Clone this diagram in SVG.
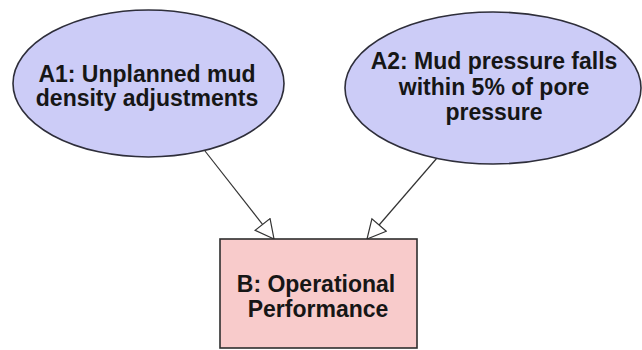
<svg xmlns="http://www.w3.org/2000/svg" width="642" height="350" viewBox="0 0 642 350">
  <style>
    .cause { fill: #ccccf7; stroke: #2e2e3a; stroke-width: 1.6; }
    .effect { fill: #f8cbcb; stroke: #2e2e2e; stroke-width: 1.6; }
    .label { font-family: "Liberation Sans", Arial, sans-serif; font-weight: bold; font-size: 23px; fill: #161616; text-anchor: middle; }
    .edge { stroke: #333333; stroke-width: 1.2; fill: none; marker-end: url(#openArrow); }
  </style>
  <defs>
    <marker id="openArrow" markerUnits="userSpaceOnUse" viewBox="0 0 21 21" markerWidth="21" markerHeight="21" refX="19.5" refY="10" orient="auto">
      <path d="M1,0.5 L19.5,10 L1,19.5 Z" fill="#ffffff" stroke="#333333" stroke-width="1.2" stroke-linejoin="miter"/>
    </marker>
  </defs>
  <rect width="642" height="350" fill="#ffffff"/>

  <g id="edges">
    <path class="edge" d="M205,151 L274,239"/>
    <path class="edge" d="M437,158 L367,239"/>
  </g>

  <g id="A1">
    <ellipse class="cause" cx="148.5" cy="83.5" rx="135.5" ry="73.5"/>
    <text class="label" x="147" y="82">A1: Unplanned mud</text>
    <text class="label" x="147" y="106">density adjustments</text>
  </g>

  <g id="A2">
    <ellipse class="cause" cx="493" cy="88" rx="148" ry="76"/>
    <text class="label" x="494" y="69">A2: Mud pressure falls</text>
    <text class="label" x="494" y="95">within 5% of pore</text>
    <text class="label" x="494" y="120">pressure</text>
  </g>

  <g id="B">
    <rect class="effect" x="220" y="239" width="197" height="109"/>
    <text class="label" x="316" y="292">B: Operational</text>
    <text class="label" x="318" y="317">Performance</text>
  </g>
</svg>
